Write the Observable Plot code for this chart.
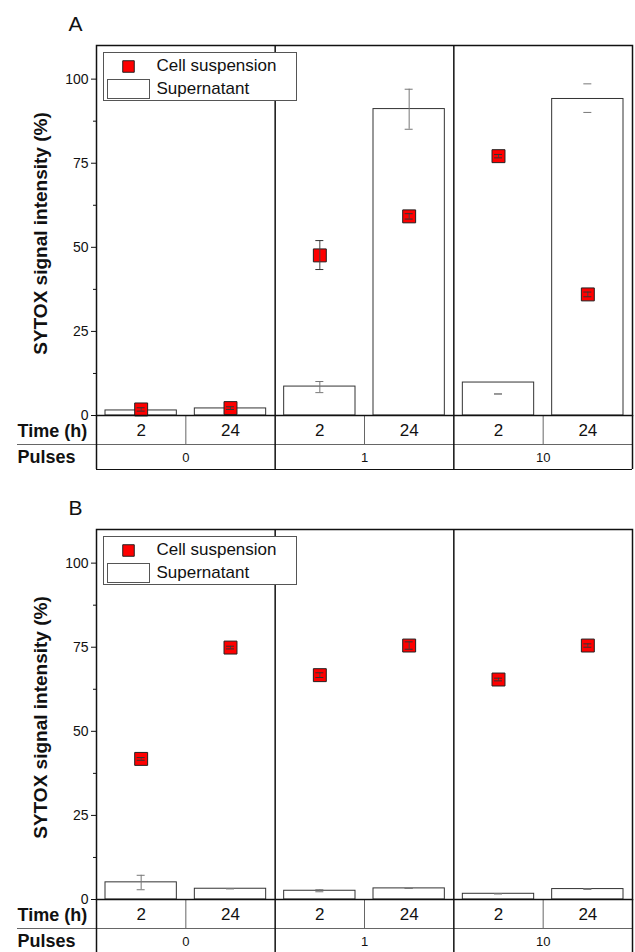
<!DOCTYPE html>
<html>
<head>
<meta charset="utf-8">
<script src="https://cdn.jsdelivr.net/npm/d3@7"></script>
<script src="https://cdn.jsdelivr.net/npm/@observablehq/plot@0.6"></script>
<style>
  html, body { margin: 0; padding: 0; background: #fff; overflow: hidden; }
  svg { display: block; }
</style>
</head>
<body>
<div id="chart"></div>
<script>
// ---- categories ----
const pulses = ["0", "1", "10"];
const times = ["2", "24"];
const yTicks = [0, 25, 50, 75, 100];
const yMinorTicks = [12.5, 37.5, 62.5, 87.5];
const legendLabels = ["Cell suspension", "Supernatant"];
const panelLabels = ["A", "B"];

// ---- Panel A values (order: P0-2h, P0-24h, P1-2h, P1-24h, P10-2h, P10-24h) ----
const cellA    = [1.8, 2.2, 47.6, 59.2, 77.1, 36.0];
const cellLoA  = [1.3, 1.8, 43.4, 58.4, 76.6, 35.3];
const cellHiA  = [2.3, 2.6, 52.0, 60.0, 77.6, 36.7];
const superA   = [1.5, 2.1, 8.6, 91.1, 9.8, 94.1];
const superLoA = [1.3, 1.9, 6.8, 85.1, 6.4, 90.1];
const superHiA = [1.7, 2.3, 10.1, 97.0, 6.4, 98.6];
const superStemA = [true, true, true, true, false, false];

// ---- Panel B values ----
const cellB    = [41.8, 74.9, 66.7, 75.5, 65.4, 75.5];
const cellLoB  = [41.4, 74.5, 66.0, 74.4, 65.0, 75.0];
const cellHiB  = [42.2, 75.3, 67.4, 76.6, 65.8, 76.0];
const superB   = [5.1, 3.2, 2.6, 3.3, 1.7, 3.1];
const superLoB = [2.9, 3.2, 2.3, 3.3, 1.7, 3.0];
const superHiB = [7.2, 3.2, 2.9, 3.3, 1.7, 3.2];
const superStemB = [true, false, true, false, false, false];

const FONT = "'Liberation Sans', Arial, Helvetica, sans-serif";

function buildRows(cell, cLo, cHi, sup, sLo, sHi, stem) {
  const rows = [];
  pulses.forEach((p, pi) => times.forEach((t, ti) => {
    const i = pi * times.length + ti;
    rows.push({i, pulse: p, time: t, cell: cell[i], cellLo: cLo[i], cellHi: cHi[i],
               sup: sup[i], supLo: sLo[i], supHi: sHi[i], stem: stem[i]});
  }));
  return rows;
}

function panel(label, rows, height, marginBottom) {
  const n = rows.length;
  const xc = d => d.i + 0.5;
  const groupEdges = d3.range(0, n + 1, times.length);          // 0,2,4,6
  const innerGroupEdges = groupEdges.slice(1, -1);               // 2,4
  const timeEdges = d3.range(1, n, 1).filter(v => v % times.length !== 0); // 1,3,5
  const pulseCenters = pulses.map((p, pi) => ({p, x: pi * times.length + times.length / 2}));

  return Plot.plot({
    width: 635,
    height,
    marginLeft: 96,
    marginRight: 3,
    marginTop: 45,
    marginBottom,
    style: {fontFamily: FONT, fontSize: "14px", color: "#111", background: "#fff", overflow: "visible"},
    x: {type: "linear", domain: [0, n], axis: null},
    y: {domain: [0, 110], axis: null},
    marks: [
      // supernatant bars
      Plot.rectY(rows, {x1: d => d.i, x2: d => d.i + 1, y: "sup", insetLeft: 9, insetRight: 9,
        fill: "#fff", stroke: "#333", strokeWidth: 1}),
      // supernatant error stems and caps
      Plot.ruleX(rows.filter(d => d.stem), {x: xc, y1: "supLo", y2: "supHi", stroke: "#777", strokeWidth: 1}),
      Plot.ruleY(rows, {y: "supLo", x1: xc, x2: xc, insetLeft: -4, insetRight: -4, stroke: "#777", strokeWidth: 1}),
      Plot.ruleY(rows, {y: "supHi", x1: xc, x2: xc, insetLeft: -4, insetRight: -4, stroke: "#777", strokeWidth: 1}),
      // group dividers in plot area
      Plot.ruleX(innerGroupEdges, {stroke: "#111", strokeWidth: 1.5}),
      // legend box
      Plot.frame({fill: "#fff", stroke: "#555", strokeWidth: 1, insetLeft: 7, insetTop: 7, insetRight: 336, insetBottom: 315}),
      Plot.dot([legendLabels[0]], {frameAnchor: "top-left", dx: 32, dy: 21, symbol: "square", r: 6.5,
        fill: "#ff0000", stroke: "#222", strokeWidth: 1}),
      Plot.frame({fill: "#fff", stroke: "#555", strokeWidth: 1, insetLeft: 11, insetTop: 34, insetRight: 483, insetBottom: 317}),
      Plot.text([legendLabels[0]], {text: d => d, frameAnchor: "top-left", dx: 60, dy: 20, textAnchor: "start", lineAnchor: "middle", fontSize: 17, fill: "#111"}),
      Plot.text([legendLabels[1]], {text: d => d, frameAnchor: "top-left", dx: 60, dy: 43, textAnchor: "start", lineAnchor: "middle", fontSize: 17, fill: "#111"}),
      // cell suspension squares
      Plot.dot(rows, {x: xc, y: "cell", symbol: "square", r: 7.3, fill: "#ff0000", stroke: "#222", strokeWidth: 1}),
      Plot.ruleX(rows, {x: xc, y1: "cellLo", y2: "cellHi", stroke: "#444", strokeWidth: 1}),
      Plot.ruleY(rows, {y: "cellLo", x1: xc, x2: xc, insetLeft: -4, insetRight: -4, stroke: "#333", strokeWidth: 1}),
      Plot.ruleY(rows, {y: "cellHi", x1: xc, x2: xc, insetLeft: -4, insetRight: -4, stroke: "#333", strokeWidth: 1}),
      // y axis
      Plot.axisY({ticks: yTicks, tickSize: 5, tickPadding: 3, fontSize: 14, label: null, stroke: "#111"}),
      Plot.axisY({ticks: yMinorTicks, tickSize: 3, tickFormat: () => "", label: null, stroke: "#111"}),
      Plot.text(["SYTOX signal intensity (%)"], {text: d => d, frameAnchor: "left", dx: -56, dy: 3, rotate: -90,
        textAnchor: "middle", lineAnchor: "middle", fontWeight: "bold", fontSize: 19, fill: "#111"}),
      // panel letter
      Plot.text([label], {text: d => d, frameAnchor: "top-left", dx: -28, dy: -21, textAnchor: "start", lineAnchor: "middle", fontSize: 21, fill: "#111"}),
      // ---- table below the axis ----
      Plot.ruleY([0], {dy: 29, insetLeft: -79, stroke: "#666", strokeWidth: 1}),
      Plot.ruleY([0], {dy: 54, stroke: "#111", strokeWidth: 1.2}),
      Plot.ruleX(timeEdges, {y1: 0, y2: 0, insetBottom: -29, stroke: "#666", strokeWidth: 1}),
      Plot.ruleX(groupEdges, {y1: 0, y2: 0, insetBottom: -54, stroke: "#111", strokeWidth: 1.5}),
      Plot.text(rows, {x: xc, text: "time", frameAnchor: "bottom", dy: 15, lineAnchor: "middle", fontSize: 17, fill: "#111"}),
      Plot.text(pulseCenters, {x: "x", text: "p", frameAnchor: "bottom", dy: 42, lineAnchor: "middle", fontSize: 13, fill: "#111"}),
      Plot.text(["Time (h)"], {text: d => d, frameAnchor: "bottom-left", dx: -79, dy: 16, textAnchor: "start", lineAnchor: "middle", fontWeight: "bold", fontSize: 18, fill: "#111"}),
      Plot.text(["Pulses"], {text: d => d, frameAnchor: "bottom-left", dx: -79, dy: 42, textAnchor: "start", lineAnchor: "middle", fontWeight: "bold", fontSize: 18, fill: "#111"}),
      // plot frame
      Plot.frame({stroke: "#111", strokeWidth: 1.5})
    ]
  });
}

const rowsA = buildRows(cellA, cellLoA, cellHiA, superA, superLoA, superHiA, superStemA);
const rowsB = buildRows(cellB, cellLoB, cellHiB, superB, superLoB, superHiB, superStemB);
const root = document.getElementById("chart");
root.append(panel(panelLabels[0], rowsA, 484, 69));
root.append(panel(panelLabels[1], rowsB, 468, 53));
</script>
</body>
</html>
